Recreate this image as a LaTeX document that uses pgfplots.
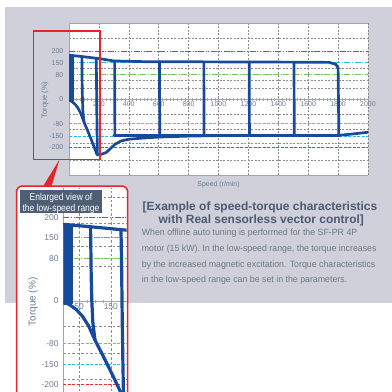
\documentclass[border=0pt]{standalone}
\usepackage{pgfplots}
\pgfplotsset{compat=1.18}
\usepackage{pgfplotstable}
\usepackage{fontspec}
\setmainfont{Liberation Sans}
\newfontfamily\condfont[FakeStretch=0.85]{Liberation Sans}
\newfontfamily\bodyfont[FakeStretch=0.97]{Liberation Sans}
\definecolor{panel}{RGB}{207,208,217}
\definecolor{dblue}{RGB}{24,74,156}
\definecolor{tickc}{RGB}{108,124,148}
\definecolor{gridg}{RGB}{140,140,140}
\definecolor{framec}{RGB}{165,165,165}
\definecolor{rred}{RGB}{236,45,45}
\definecolor{rcyan}{RGB}{40,185,236}
\definecolor{rgreen}{RGB}{118,198,88}
\definecolor{titlec}{RGB}{74,90,116}
\definecolor{bodyc}{RGB}{112,119,136}
\definecolor{hdr}{RGB}{78,94,116}
\definecolor{boxred}{RGB}{232,36,42}

\pgfplotstableread{
x y
0 184
90 178
200 170
300 160
500 157
1000 156
1500 155
1740 154
1785 146
1800 130
1805 -150
1900 -144
2000 -137
}\outline
\pgfplotstableread{
x y
186 -228
215 -229
250 -221
280 -203
310 -186
350 -173
400 -166
500 -161
600 -157
800 -153
1000 -151
}\bottomcurve
\pgfplotstableread{
x y
2 -6
2 183
5 183
5 -6
8 -6
8 183
11 183
11 -6
14 -6
14 182
17 182
17 -6
20 -6
20 182
23 182
23 -6
26 -6
26 181
}\block
\pgfplotstableread{
x y
86 178
88 60
90 0
93 -50
100 -94
}\vninety
\pgfplotstableread{
x y
4 -3
20 -9
40 -20
60 -36
80 -60
100 -94
127 -134
153 -174
178 -214
186 -228
}\diag
\pgfplotstableread{
x y
182 171
184 80
186 -50
188 -150
190 -232
}\vhigh

\pgfplotsset{
  refred/.style={rred, no markers, line width=0.9bp, dash pattern=on 6bp off 1.5bp on 1.2bp off 1.5bp on 1.2bp off 1.5bp},
  refredb/.style={rred, no markers, line width=0.9bp, dash pattern=on 3bp off 1.5bp},
  refcyan/.style={rcyan, no markers, line width=0.9bp, dash pattern=on 6bp off 1.5bp on 1.2bp off 1.5bp},
  refcyanb/.style={rcyan, no markers, line width=0.9bp, dash pattern=on 3bp off 1.5bp},
  refgreen/.style={rgreen, no markers, line width=0.9bp, dash pattern=on 6bp off 1.5bp on 1.2bp off 1.5bp},
  refgreenb/.style={rgreen, no markers, line width=0.9bp, dash pattern=on 3bp off 1.5bp},
  bl/.style={dblue, no markers, line width=2.7bp, line join=round, line cap=round},
  bi/.style={dblue, no markers, line width=3.2bp, line join=round, line cap=round},
}

\begin{document}
\begin{tikzpicture}
\path[use as bounding box] (0,0) rectangle (392bp,-392bp);
\clip (0,0) rectangle (392bp,-392bp);
\begin{scope}[x=1bp,y=-1bp]
\fill[white] (0,0) rectangle (392,392);
\fill[panel] (5,7) rectangle (392,303);
\end{scope}

% ---------------- main chart
\begin{axis}[
  at={(69bp,-175bp)}, anchor=south west,
  scale only axis, width=299bp, height=152bp,
  xmin=0, xmax=2000, ymin=-315, ymax=318,
  axis background/.style={fill=white},
  axis x line=middle, axis y line=left,
  axis line style={draw=framec, line width=0.8bp, -},
  xtick={0,200,...,2000},
  xticklabels={0,200,400,600,800,1000,1200,1400,1600,1800,2000},
  minor x tick num=7,
  xmajorgrids, ymajorgrids,
  ytick={-255,-185,-125,-62,45,78,128,255},
  yticklabels={},
  extra y ticks={-200,-153,-102,0,102,153,200},
  extra y tick labels={-200,-150,-80,0,80,150,200},
  extra y tick style={grid=none},
  ytick style={draw=none},
  xtick style={framec, line width=0.5bp},
  major tick length=3bp, minor tick length=2.5bp,
  major grid style={gridg, dash pattern=on 2bp off 1.5bp, line width=0.6bp},
  xticklabel style={font=\fontsize{7}{8}\selectfont, text=tickc, inner sep=1bp},
  yticklabel style={font=\fontsize{7}{8}\selectfont, text=tickc, inner sep=0bp, xshift=-4bp},
  clip=true,
]
\draw[framec, line width=0.8bp] (rel axis cs:0,0) rectangle (rel axis cs:1,1);
\addplot[refred] coordinates {(0,200) (2000,200)};
\addplot[refredb] coordinates {(0,-200) (2000,-200)};
\addplot[refcyan] coordinates {(0,153) (2000,153)};
\addplot[refcyanb] coordinates {(0,-153) (2000,-153)};
\addplot[refgreen] coordinates {(0,102) (2000,102)};
\addplot[refgreenb] coordinates {(0,-102) (2000,-102)};
\addplot[bl] table[x=x,y=y] {\outline};
\addplot[bl] coordinates {(300,-150) (1805,-150)};
\addplot[bl] coordinates {(305,158) (307,-150)};
\addplot[bl] coordinates {(605,157) (607,-151)};
\addplot[bl] coordinates {(902,156) (903,-151)};
\addplot[bl] coordinates {(1205,156) (1207,-150)};
\addplot[bl] coordinates {(1505,155) (1507,-150)};
\addplot[bl] table[x=x,y=y] {\bottomcurve};
\addplot[bl] table[x=x,y=y] {\block};
\addplot[bl] table[x=x,y=y] {\vninety};
\addplot[bl] table[x=x,y=y] {\diag};
\addplot[bl] table[x=x,y=y] {\vhigh};
\end{axis}

\begin{scope}[x=1bp,y=-1bp]
\draw[boxred, line width=1.3bp] (33.3,31) rectangle (100,159.3);
\node[font=\fontsize{7.5}{8}\selectfont, text=tickc, rotate=90] at (45,100) {Torque (\%)};
\node[font=\fontsize{7}{8}\selectfont, text=tickc, anchor=base] at (218.5,186.5) {Speed (r/min)};
\node[font=\fontsize{12}{13}\selectfont\bfseries, text=titlec, anchor=base] at (260,210.5) {[Example of speed-torque characteristics};
\node[font=\fontsize{12}{13}\selectfont\bfseries, text=titlec, anchor=base] at (261.3,223.5) {with Real sensorless vector control]};
\begin{scope}[every node/.style={font=\bodyfont\fontsize{9.1}{10}\selectfont, text=bodyc, anchor=base west, inner sep=0pt}]
\node at (141.7,235.5) {When offline auto tuning is performed for the SF-PR 4P};
\node at (141.7,251.3) {motor (15 kW). In the low-speed range, the torque increases};
\node at (141.7,267) {by the increased magnetic excitation. Torque characteristics};
\node at (141.7,282.8) {in the low-speed range can be set in the parameters.};
\end{scope}
\fill[boxred] (59.5,159.5) -- (42,188) -- (51,188) -- cycle;
\fill[white, rounded corners=6bp] (16.5,186) rectangle (127.7,430);
\end{scope}

% ---------------- inset
\begin{axis}[
  at={(63.3bp,-400bp)}, anchor=south west,
  scale only axis, width=63.4bp, height=212bp,
  xmin=0, xmax=200, ymin=-237.7, ymax=271.3,
  axis x line=middle, axis y line=left,
  axis line style={draw=framec, line width=0.8bp, -},
  xtick={50,150}, xticklabels={50,150},
  minor x tick num=3,
  xmajorgrids, ymajorgrids,
  ytick={-255,-187,-125,-60,84,132,187,248},
  yticklabels={},
  extra y ticks={-200,-153,-102,0,102,153,200},
  extra y tick labels={-200,-150,-80,0,80,150,200},
  extra y tick style={grid=none},
  ytick style={draw=none},
  xtick style={framec, line width=0.5bp},
  major tick length=3bp, minor tick length=3bp,
  major grid style={gridg, dash pattern=on 2.5bp off 2bp, line width=0.6bp},
  xticklabel style={font=\fontsize{8.5}{9}\selectfont, text=tickc, inner sep=1bp},
  yticklabel style={font=\fontsize{8.5}{9}\selectfont, text=tickc, inner sep=0bp, xshift=-3bp},
]
\addplot[refred] coordinates {(0,200) (200,200)};
\addplot[refredb] coordinates {(0,-200) (200,-200)};
\addplot[refcyan] coordinates {(0,153) (200,153)};
\addplot[refcyanb] coordinates {(0,-153) (200,-153)};
\addplot[refgreen] coordinates {(0,102) (200,102)};
\addplot[refgreenb] coordinates {(0,-102) (200,-102)};
\addplot[bi] table[x=x,y=y] {\outline};
\addplot[bi] table[x=x,y=y] {\bottomcurve};
\addplot[bi] table[x=x,y=y] {\block};
\addplot[bi] table[x=x,y=y] {\vninety};
\addplot[bi] table[x=x,y=y] {\diag};
\addplot[bi] table[x=x,y=y] {\vhigh};
\end{axis}

\begin{scope}[x=1bp,y=-1bp]
\fill[hdr] (20,190) rectangle (102,213.3);
\node[font=\condfont\fontsize{10}{11}\selectfont, text=white, anchor=base] at (61,200.5) {Enlarged view of};
\node[font=\condfont\fontsize{10}{11}\selectfont, text=white, anchor=base] at (61,211.2) {the low-speed range};
\node[font=\fontsize{10}{11}\selectfont, text=tickc, rotate=90] at (33,302) {Torque (\%)};
\draw[boxred, line width=1.5bp, rounded corners=6bp] (16.5,186) rectangle (127.7,430);
\end{scope}
\end{tikzpicture}
\end{document}
